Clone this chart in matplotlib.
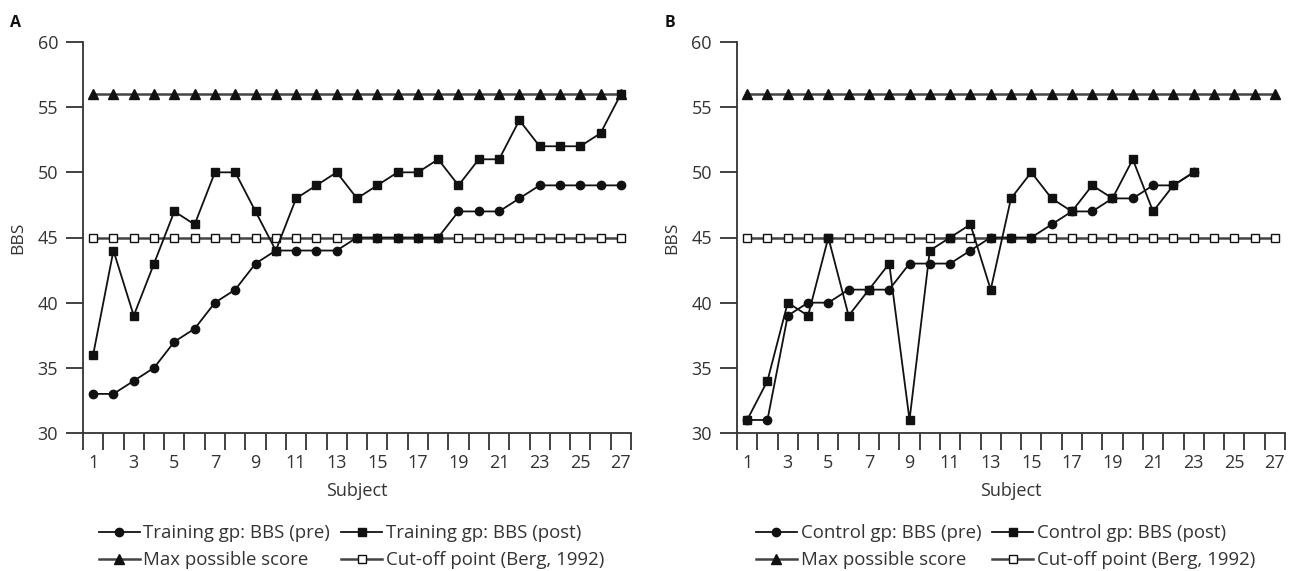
import matplotlib
matplotlib.use("Agg")
import matplotlib.pyplot as plt
import numpy as np

plt.rcParams["font.family"] = ["Open Sans", "DejaVu Sans"]

subjects = np.arange(1, 28)

# Panel A: training group
train_pre = [33, 33, 34, 35, 37, 38, 40, 41, 43, 44, 44, 44, 44, 45, 45, 45, 45, 45,
             47, 47, 47, 48, 49, 49, 49, 49, 49]
train_post = [36, 44, 39, 43, 47, 46, 50, 50, 47, 44, 48, 49, 50, 48, 49, 50, 50, 51,
              49, 51, 51, 54, 52, 52, 52, 53, 56]

# Panel B: control group
ctrl_pre = [31, 31, 39, 40, 40, 41, 41, 41, 43, 43, 43, 44, 45, 45, 45, 46, 47, 47,
            48, 48, 49, 49, 50]
ctrl_post = [31, 34, 40, 39, 45, 39, 41, 43, 31, 44, 45, 46, 41, 48, 50, 48, 47, 49,
             48, 51, 47, 49, 50]

max_score = [56] * 27
cutoff = [45] * 27

ytick_vals = [30, 35, 40, 45, 50, 55, 60]
xtick_labels = [str(i) for i in range(1, 28, 2)]

TXT = "#333333"
W, H = 1293, 571
fig = plt.figure(figsize=(W / 100, H / 100), dpi=100)


def panel(left_px, pre, post, pre_lab, post_lab, letter, letter_x):
    ax = fig.add_axes([left_px / W, (H - 433) / H, 548 / W, 391 / H])
    n_pre = np.arange(1, len(pre) + 1)
    ax.plot(subjects, max_score, color="#444444", lw=1.8, marker="^", ms=6.5,
            mfc="#111111", mec="#111111", label="Max possible score", zorder=2)
    ax.plot(subjects, cutoff, color="#444444", lw=1.8, marker="s", ms=5.5,
            mfc="white", mec="#111111", mew=1.0, label="Cut-off point (Berg, 1992)", zorder=3)
    ax.plot(n_pre, pre, color="#111111", lw=1.3, marker="o", ms=6,
            mfc="#111111", mec="#111111", label=pre_lab, zorder=4)
    ax.plot(n_pre, post, color="#111111", lw=1.3, marker="s", ms=6,
            mfc="#111111", mec="#111111", label=post_lab, zorder=5)

    ax.set_xlim(0.5, 27.5)
    ax.set_ylim(30, 60)
    for s in ["top", "right"]:
        ax.spines[s].set_visible(False)
    for s in ["left", "bottom"]:
        ax.spines[s].set_color("#333333")
        ax.spines[s].set_linewidth(1.3)

    ax.set_yticks(ytick_vals)
    ax.set_xticks(np.arange(0.5, 28, 1))
    ax.set_xticklabels([])
    ax.set_xticks(np.arange(1, 28, 2), minor=True)
    ax.set_xticklabels(xtick_labels, minor=True)
    ax.tick_params(axis="both", which="major", direction="out", length=12,
                   width=1.3, color="#333333", labelsize=13, labelcolor=TXT, pad=6)
    ax.tick_params(axis="x", which="minor", length=0, labelsize=13,
                   labelcolor=TXT, pad=15)
    ax.set_xlabel("Subject", fontsize=13, color=TXT, labelpad=7)
    ax.set_ylabel("BBS", fontsize=12.5, color=TXT, labelpad=8)

    handles, labels = ax.get_legend_handles_labels()
    order = [2, 0, 3, 1]
    ax.legend([handles[i] for i in order], [labels[i] for i in order],
              ncol=2, loc="upper center", bbox_to_anchor=(0.49, -0.19),
              frameon=False, fontsize=13.4, handlelength=2.2, handletextpad=0.2,
              columnspacing=0.6, labelspacing=0.5, labelcolor=TXT)
    fig.text(letter_x / W, 1 - 23 / H, letter, fontsize=11.5, fontweight="bold",
             color="#111111", va="center", ha="left")
    return ax


panel(83, train_pre, train_post, "Training gp: BBS (pre)", "Training gp: BBS (post)",
      "A", 10)
panel(737, ctrl_pre, ctrl_post, "Control gp: BBS (pre)", "Control gp: BBS (post)",
      "B", 665)

fig.savefig("out.png", dpi=100)
